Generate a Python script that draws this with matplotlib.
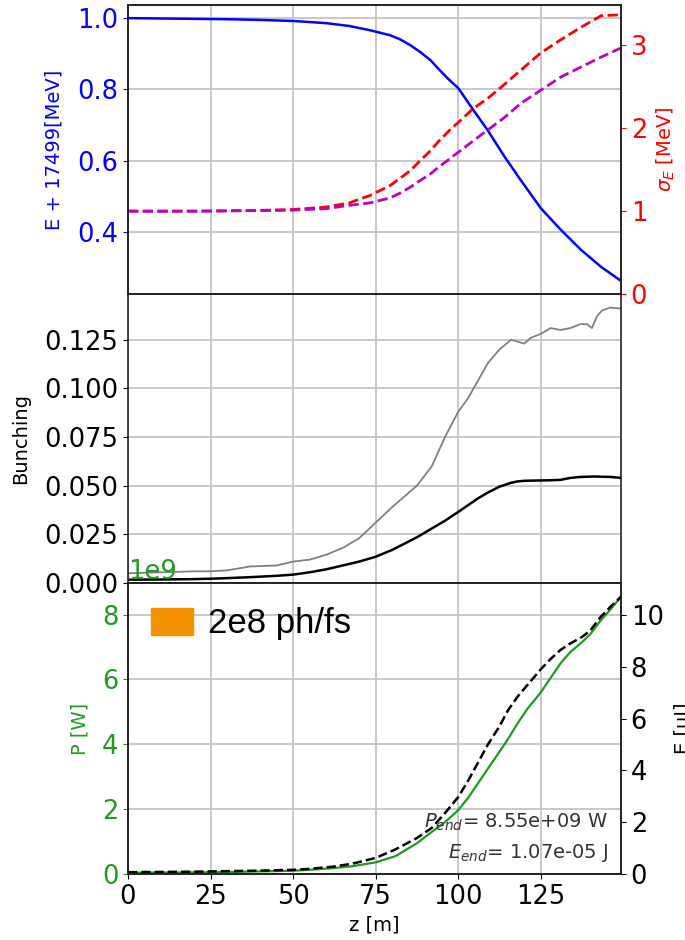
import matplotlib
matplotlib.use("Agg")
import matplotlib.pyplot as plt
from matplotlib.patches import Patch
from matplotlib.ticker import MultipleLocator

# ---- data ----
# top panel: mean energy (E + 17499 MeV) and energy spread
z_top = [0, 10, 20, 30, 40, 50, 60, 67, 73.3, 79.4, 82.5, 85.5, 88.5, 91.6, 94,
         96.7, 98.3, 100, 104.6, 108.9, 113.7, 118.9, 125, 131.1, 137.2, 143.3,
         149.3]
e_mean = [1.000, 0.999, 0.998, 0.997, 0.995, 0.992, 0.986, 0.978, 0.966, 0.952,
          0.940, 0.924, 0.905, 0.882, 0.858, 0.832, 0.818, 0.804, 0.742, 0.686,
          0.616, 0.546, 0.467, 0.406, 0.350, 0.302, 0.263]
sigma_e = [1.00, 1.00, 1.00, 1.005, 1.01, 1.02, 1.05, 1.10, 1.19, 1.31, 1.40,
           1.49, 1.61, 1.73, 1.84, 1.95, 2.01, 2.07, 2.24, 2.36, 2.52, 2.70, 2.91,
           3.07, 3.22, 3.36, 3.37]
sigma_e2 = [1.00, 1.00, 1.00, 1.003, 1.007, 1.012, 1.03, 1.07, 1.10, 1.16, 1.22,
            1.29, 1.37, 1.45, 1.53, 1.61, 1.66, 1.71, 1.85, 1.98, 2.12, 2.30, 2.46,
            2.62, 2.74, 2.86, 2.97]

# middle panel: bunching
z_mid = [0, 10, 20, 25, 30, 37, 45, 50, 55, 60, 65, 70, 75, 80, 87.5, 92, 96,
         100, 103, 106, 109, 112.5, 116, 118, 120, 122, 125, 128, 131, 134, 137,
         139, 140.5, 142, 143.5, 146, 149.3]
bunch_max = [0.005, 0.0055, 0.006, 0.006, 0.0065, 0.0085, 0.009, 0.011, 0.012,
             0.0145, 0.018, 0.023, 0.031, 0.039, 0.050, 0.060, 0.075, 0.088,
             0.095, 0.104, 0.113, 0.120, 0.125, 0.124, 0.123, 0.126, 0.128,
             0.131, 0.130, 0.131, 0.133, 0.133, 0.131, 0.137, 0.140, 0.1415,
             0.141]
bunch = [0.0017, 0.0018, 0.002, 0.0022, 0.0025, 0.003, 0.0037, 0.0043, 0.0055,
         0.007, 0.009, 0.011, 0.0135, 0.017, 0.0235, 0.028, 0.032, 0.0365, 0.040,
         0.0435, 0.0465, 0.0495, 0.0515, 0.0522, 0.0525, 0.0526, 0.0527, 0.0528,
         0.053, 0.054, 0.0545, 0.0546, 0.0547, 0.0547, 0.0546, 0.0545, 0.054]

# bottom panel: power [GW] and pulse energy [uJ]
z_bot = [0, 10, 20, 30, 40, 50, 55, 62, 68, 75, 81, 87.5, 92, 96, 100, 103, 106,
         109, 112.5, 115, 118, 121, 125, 128, 131, 134, 137.5, 140, 143, 146, 149.3]
power_gw = [0.04, 0.045, 0.05, 0.06, 0.08, 0.10, 0.13, 0.18, 0.24, 0.36, 0.55,
            0.95, 1.30, 1.60, 1.97, 2.35, 2.80, 3.25, 3.77, 4.15, 4.65, 5.10,
            5.60, 6.05, 6.50, 6.85, 7.15, 7.40, 7.80, 8.15, 8.55]
energy_uj = [0.07, 0.08, 0.09, 0.11, 0.13, 0.16, 0.20, 0.28, 0.40, 0.62, 0.95,
             1.39, 1.78, 2.35, 2.97, 3.60, 4.30, 5.00, 5.70, 6.30, 6.85, 7.30,
             7.90, 8.30, 8.65, 8.90, 9.15, 9.40, 9.90, 10.30, 10.70]

legend_label = "2e8 ph/fs"

TICK = 18.5
LAB = 14
green = '#1f9a1f'
spine_c = '#222222'

fig = plt.figure(figsize=(6.85, 9.40), dpi=100)
left, width = 128 / 685, 493 / 685
h = 289 / 940
ax1 = fig.add_axes([left, 1 - 294 / 940, width, h])
ax2 = fig.add_axes([left, 1 - 583 / 940, width, h], sharex=ax1)
ax3 = fig.add_axes([left, 1 - 874 / 940, width, 291 / 940], sharex=ax1)

for ax in (ax1, ax2, ax3):
    ax.grid(True, color='#c4c4c4', lw=1.3)
    ax.tick_params(labelsize=TICK)

# top: energy and spread
ax1.plot(z_top, e_mean, color='b', lw=1.8)
ax1.set_ylabel('E + 17499[MeV]', color='b', fontsize=LAB)
ax1.tick_params(axis='y', colors='b')
ax1.tick_params(axis='x', labelbottom=False, length=0)
ax1.yaxis.set_major_locator(MultipleLocator(0.2))
ax1.yaxis.set_label_coords(-0.130, 0.5)
ax1t = ax1.twinx()
ax1t.plot(z_top, sigma_e, 'r--', lw=2)
ax1t.plot(z_top, sigma_e2, 'm--', lw=2)
ax1t.set_ylim(bottom=0)
ax1t.yaxis.set_major_locator(MultipleLocator(1))
ax1t.set_ylabel(r'$\sigma_E$ [MeV]', color='r', fontsize=LAB)
ax1t.tick_params(axis='y', colors='r', labelsize=TICK)
ax1t.yaxis.set_label_coords(1.069, 0.5)

# middle: bunching
ax2.plot(z_mid, bunch_max, color='grey', lw=1.3)
ax2.plot(z_mid, bunch, color='k', lw=1.8)
ax2.set_ylim(bottom=0)
ax2.yaxis.set_major_locator(MultipleLocator(0.025))
ax2.set_ylabel('Bunching', fontsize=LAB)
ax2.yaxis.set_label_coords(-0.199, 0.5)
ax2.tick_params(axis='x', labelbottom=False, length=0)

# bottom: power and energy
ax3.plot(z_bot, [p * 1e9 for p in power_gw], color=green, lw=1.6)
ax3.set_ylim(bottom=0)
ax3.yaxis.set_major_locator(MultipleLocator(2e9))
ax3.set_ylabel('P [W]', color=green, fontsize=LAB)
ax3.tick_params(axis='y', colors=green)
ax3.yaxis.get_offset_text().set_color(green)
ax3.yaxis.get_offset_text().set_fontsize(TICK)
ax3.yaxis.set_label_coords(-0.079, 0.5)
ax3.set_xlabel('z [m]', fontsize=LAB)
ax3t = ax3.twinx()
ax3t.plot(z_bot, energy_uj, 'k--', lw=1.8)
ax3t.set_ylim(bottom=0)
ax3t.yaxis.set_major_locator(MultipleLocator(2))
ax3t.set_ylabel('E [uJ]', fontsize=LAB)
ax3t.tick_params(axis='y', labelsize=TICK)
ax3t.yaxis.set_label_coords(1.108, 0.5)

for ax in (ax1, ax2, ax3, ax1t, ax3t):
    for s in ax.spines.values():
        s.set_color(spine_c)
        s.set_linewidth(1.2)

ax1.set_xlim(z_top[0], z_top[-1])
ax1.set_xticks([0, 25, 50, 75, 100, 125])

ax3.text(0.974, 0.158, r'$P_{end}$= %.2e W' % (power_gw[-1] * 1e9),
         transform=ax3.transAxes, ha='right', va='baseline', fontsize=14,
         color='#333333')
ax3.text(0.974, 0.055, r'$E_{end}$= %.2e J' % (energy_uj[-1] * 1e-6),
         transform=ax3.transAxes, ha='right', va='baseline', fontsize=14,
         color='#333333')

fig.legend(handles=[Patch(color='#f39200', label=legend_label)],
           loc='center left', bbox_to_anchor=(151 / 685, 1 - 624 / 940),
           frameon=False, borderpad=0, borderaxespad=0, handlelength=1.2,
           handleheight=0.8, handletextpad=0.45,
           prop={'family': 'Liberation Sans', 'size': 25})

fig.savefig('out.png', dpi=100)
